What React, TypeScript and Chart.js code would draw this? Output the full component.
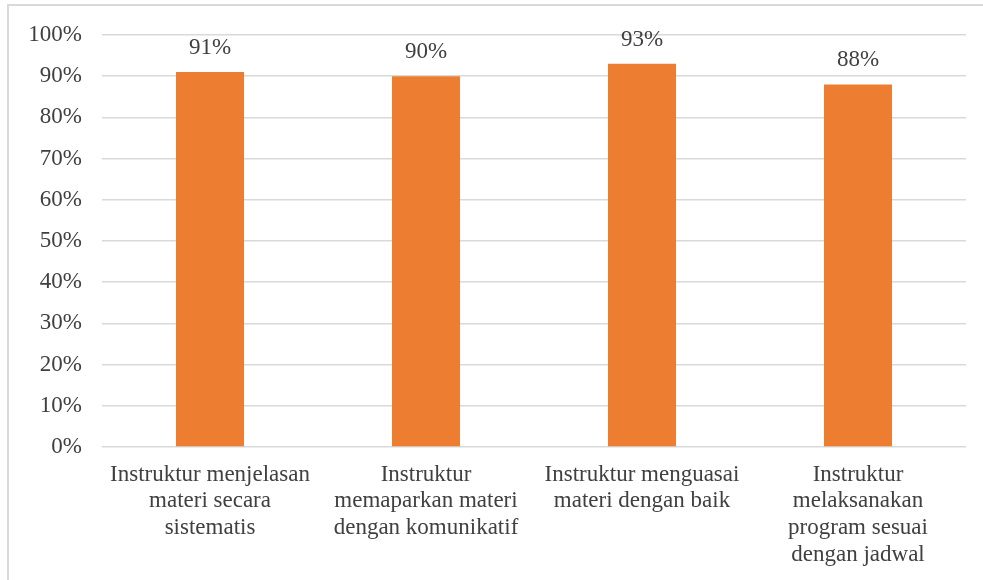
import React, { useEffect, useRef } from "react";
import { Chart, registerables } from "chart.js";

Chart.register(...registerables);

const categories: string[][] = [
  ["Instruktur menjelasan", "materi secara", "sistematis"],
  ["Instruktur", "memaparkan materi", "dengan komunikatif"],
  ["Instruktur menguasai", "materi dengan baik"],
  ["Instruktur", "melaksanakan", "program sesuai", "dengan jadwal"],
];
const values: number[] = [91, 90, 93, 88];
const yMax = 100;
const yStep = 10;

const FONT = "'Liberation Serif', 'Times New Roman', serif";
const TEXT = "#404040";

const dataLabels = {
  id: "dataLabels",
  afterDatasetsDraw(chart: any) {
    const ctx = chart.ctx;
    const meta = chart.getDatasetMeta(0);
    ctx.save();
    ctx.font = `23px ${FONT}`;
    ctx.fillStyle = TEXT;
    ctx.textAlign = "center";
    ctx.textBaseline = "alphabetic";
    meta.data.forEach((bar: any, i: number) => {
      ctx.fillText(`${values[i]}%`, bar.x, bar.y - 18);
    });
    ctx.restore();
  },
};

export default function App() {
  const ref = useRef<HTMLCanvasElement>(null);
  useEffect(() => {
    if (!ref.current) return;
    const chart = new Chart(ref.current, {
      type: "bar",
      data: {
        labels: categories,
        datasets: [
          {
            data: values,
            backgroundColor: "#ED7D31",
            categoryPercentage: 1,
            barPercentage: 0.315,
          },
        ],
      },
      options: {
        animation: false,
        responsive: false,
        maintainAspectRatio: false,
        layout: { padding: { left: 0, right: 17, top: 35, bottom: 0 } },
        plugins: {
          legend: { display: false },
          tooltip: { enabled: false },
        },
        scales: {
          x: {
            grid: { display: false, drawTicks: false },
            border: { display: false },
            ticks: {
              maxRotation: 0,
              minRotation: 0,
              autoSkip: false,
              padding: 14,
              color: TEXT,
              font: { family: FONT, size: 23, lineHeight: 1.17 },
            },
            afterFit: (scale: any) => {
              scale.height = 133;
            },
          },
          y: {
            min: 0,
            max: yMax,
            grid: { color: "#d9d9d9", lineWidth: 1.5, drawTicks: false },
            border: { display: false },
            ticks: {
              stepSize: yStep,
              padding: 20,
              color: TEXT,
              font: { family: FONT, size: 23 },
              callback: (v: any) => `${v}%`,
            },
            afterFit: (scale: any) => {
              scale.width = 102;
            },
          },
        },
      },
      plugins: [dataLabels],
    });
    return () => chart.destroy();
  }, []);

  return (
    <div
      style={{
        position: "fixed",
        left: 0,
        top: 0,
        width: 983,
        height: 580,
        background: "#fff",
        overflow: "hidden",
      }}
    >
      <div
        style={{
          position: "absolute",
          left: 7,
          top: 4,
          width: 990,
          height: 600,
          borderLeft: "2px solid #d9d9d9",
          borderTop: "2px solid #d9d9d9",
        }}
      />
      <canvas
        ref={ref}
        width={983}
        height={580}
        style={{ position: "absolute", left: 0, top: 0, width: 983, height: 580 }}
      />
    </div>
  );
}
